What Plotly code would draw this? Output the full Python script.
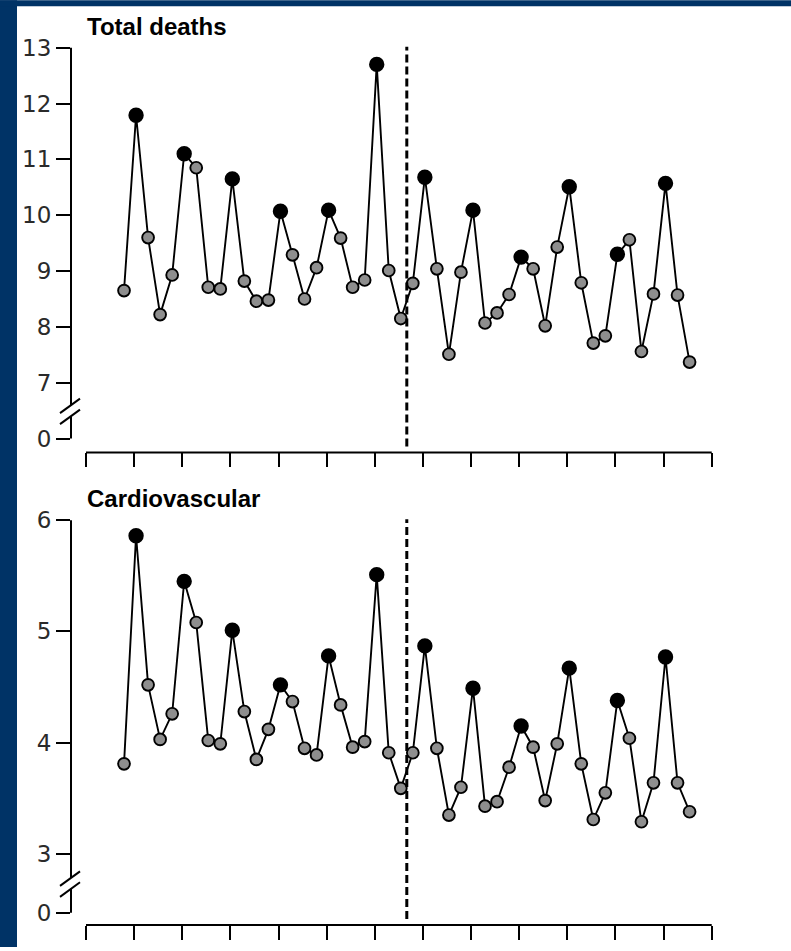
import plotly.graph_objects as go

# ---------------- data ----------------
quarters = list(range(48))                 # consecutive quarters
total_deaths = [8.65, 11.79, 9.60, 8.22, 8.93, 11.10, 10.85, 8.71, 8.68, 10.65,
                8.82, 8.46, 8.48, 10.07, 9.29, 8.50, 9.06, 10.09, 9.59, 8.71,
                8.84, 12.70, 9.01, 8.15, 8.78, 10.68, 9.04, 7.51, 8.98, 10.09,
                8.07, 8.25, 8.58, 9.25, 9.04, 8.02, 9.43, 10.51, 8.79, 7.71,
                7.84, 9.30, 9.56, 7.56, 8.59, 10.57, 8.57, 7.37]
cardiovascular = [3.81, 5.86, 4.52, 4.03, 4.26, 5.45, 5.08, 4.02, 3.99, 5.01,
                  4.28, 3.85, 4.12, 4.52, 4.37, 3.95, 3.89, 4.78, 4.34, 3.96,
                  4.01, 5.51, 3.91, 3.59, 3.91, 4.87, 3.95, 3.35, 3.60, 4.49,
                  3.43, 3.47, 3.78, 4.15, 3.96, 3.48, 3.99, 4.67, 3.81, 3.31,
                  3.55, 4.38, 4.04, 3.29, 3.64, 4.77, 3.64, 3.38]
panel_titles = ["Total deaths", "Cardiovascular"]
top_ticks = [7, 8, 9, 10, 11, 12, 13]
bottom_ticks = [3, 4, 5, 6]
year_ticks = list(range(0, 53, 4))          # year boundaries in quarter units
first_quarter_pos = 3.16                    # position of first quarter on the time axis
intervention_after = 23                     # dashed line between quarter 23 and 24

# ---------------- layout geometry ----------------
W, H = 791, 951
ML, MR, MT, MB = 71, 61, 40, 22
PW, PH = W - ML - MR, H - MT - MB


def ppx(px):
    return (px - ML) / PW


def ppy(py):
    return (H - MB - py) / PH


xpos = [q + first_quarter_pos for q in quarters]
x_line = first_quarter_pos + intervention_after + 0.5
marker_colors = ["black" if q % 4 == 1 else "#8e8e8e" for q in quarters]
marker_sizes = [13.5 if q % 4 == 1 else 11.8 for q in quarters]

# panel pixel boxes (top, bottom) and axis scale
top_box = (40, 454.3)
bot_box = (515, 929)
# top panel: value 13 at 47.7 px, 56.1 px/unit ; zero label sits where 6 would be
t_ref_v, t_ref_p, t_scale = 13, 47.7, 56.1
# bottom panel: value 6 at 522.3 px, 111.8 px/unit
b_ref_v, b_ref_p, b_scale = 6, 522.3, 111.8


def rng(box, refv, refp, sc):
    return [refv - (box[1] - refp) / sc, refv + (refp - box[0]) / sc]


t_range = rng(top_box, t_ref_v, t_ref_p, t_scale)
b_range = rng(bot_box, b_ref_v, b_ref_p, b_scale)
t_zero = 6.0
b_zero = 3 - 59 / b_scale

fig = go.Figure()
for vals, xa, ya in [(total_deaths, "x", "y"), (cardiovascular, "x2", "y2")]:
    fig.add_trace(go.Scatter(
        x=xpos, y=vals, xaxis=xa, yaxis=ya, mode="lines+markers",
        line=dict(color="black", width=1.9),
        marker=dict(color=marker_colors, size=marker_sizes, opacity=1,
                    line=dict(color="black", width=1.9)),
        showlegend=False, hoverinfo="skip", cliponaxis=False))

tickfont = dict(family="DejaVu Sans", size=23, color="#2a2a2a")
xr = [(ML - 86) / 12.033, (W - MR - 86) / 12.033]
common_x = dict(range=xr, showgrid=False, zeroline=False, showline=False,
                ticks="outside", ticklen=14, tickwidth=2, tickcolor="black",
                tickvals=year_ticks, showticklabels=False, fixedrange=True)
common_y = dict(showgrid=False, zeroline=False, showline=False,
                ticks="outside", ticklen=14, tickwidth=2, tickcolor="black",
                tickfont=tickfont, fixedrange=True)

fig.update_layout(
    width=W, height=H,
    margin=dict(l=ML, r=MR, t=MT, b=MB),
    paper_bgcolor="white", plot_bgcolor="white",
    xaxis=dict(domain=[0, 1], anchor="y", **common_x),
    yaxis=dict(domain=[ppy(top_box[1]), ppy(top_box[0])], anchor="x",
               range=t_range, tickvals=[t_zero] + top_ticks,
               ticktext=["0"] + [str(t) for t in top_ticks], **common_y),
    xaxis2=dict(domain=[0, 1], anchor="y2", **common_x),
    yaxis2=dict(domain=[ppy(bot_box[1]), ppy(bot_box[0])], anchor="x2",
                range=b_range, tickvals=[b_zero] + bottom_ticks,
                ticktext=["0"] + [str(t) for t in bottom_ticks], **common_y),
)

shapes = []
# panels: axis lines, break marks, dashed intervention line
panels = [
    ("x", "y", top_ticks[-1], t_zero, t_scale, t_ref_v, t_ref_p, top_box),
    ("x2", "y2", bottom_ticks[-1], b_zero, b_scale, b_ref_v, b_ref_p, bot_box),
]
for xa, ya, vmax, vzero, sc, refv, refp, box in panels:
    low_tick = top_ticks[0] if ya == "y" else bottom_ticks[0]
    mid_v = (low_tick + vzero) / 2
    half_gap = 5.5 / sc
    # x axis line
    shapes.append(dict(type="line", xref=xa, yref=f"{ya} domain",
                       x0=year_ticks[0], x1=year_ticks[-1], y0=0, y1=0,
                       line=dict(color="black", width=2)))
    # y axis line (with gap for break)
    shapes.append(dict(type="line", xref=f"{xa} domain", yref=ya, x0=0, x1=0,
                       y0=mid_v + half_gap, y1=vmax, line=dict(color="black", width=2)))
    shapes.append(dict(type="line", xref=f"{xa} domain", yref=ya, x0=0, x1=0,
                       y0=vzero, y1=mid_v - half_gap, line=dict(color="black", width=2)))
    # break marks
    dx0 = -11 / PW
    dx1 = 9 / PW
    for off in (half_gap, -half_gap):
        shapes.append(dict(type="line", xref=f"{xa} domain", yref=ya,
                           x0=dx0, x1=dx1,
                           y0=mid_v + off - 8.0 / sc, y1=mid_v + off + 6.6 / sc,
                           line=dict(color="black", width=2)))
    # dashed vertical line
    top_v = vmax + 1 / sc
    bot_v = refv - (box[1] - 6 - refp) / sc
    shapes.append(dict(type="line", xref=xa, yref=ya, x0=x_line, x1=x_line,
                       y0=bot_v, y1=top_v,
                       line=dict(color="black", width=3, dash="8px,4px")))

# dark blue frame (left and top)
frame = "#003366"
shapes.append(dict(type="rect", xref="paper", yref="paper", layer="above",
                   x0=ppx(0), x1=ppx(17), y0=ppy(H), y1=ppy(0),
                   fillcolor=frame, line=dict(width=0)))
shapes.append(dict(type="rect", xref="paper", yref="paper", layer="above",
                   x0=ppx(0), x1=ppx(W), y0=ppy(6), y1=ppy(0),
                   fillcolor=frame, line=dict(width=0)))
fig.update_layout(shapes=shapes)

title_font = dict(family="Liberation Sans", size=24, color="black")
for title, py in zip(panel_titles, [26.7, 500.5]):
    fig.add_annotation(text=f"<b>{title}</b>", xref="paper", yref="paper",
                       x=ppx(85), y=ppy(py), xanchor="left", yanchor="middle",
                       showarrow=False, font=title_font)

fig.write_html("out.html",
               config={"displayModeBar": False, "staticPlot": True},
               post_script="document.body.style.margin='0';"
                           "document.body.style.overflow='hidden';")
